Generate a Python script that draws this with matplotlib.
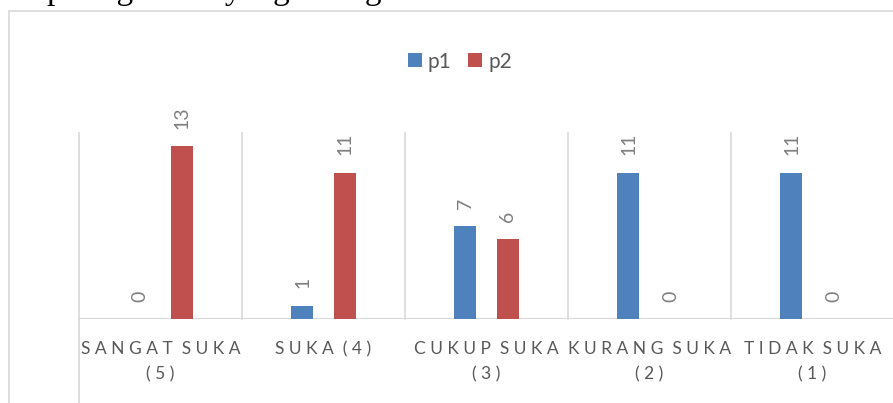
import matplotlib
matplotlib.use("Agg")
import matplotlib.pyplot as plt
import numpy as np
from matplotlib.lines import Line2D

plt.rcParams['font.family'] = ['Lato', 'DejaVu Sans']

categories = ["SANGAT SUKA\n(5)", "SUKA (4)", "CUKUP SUKA\n(3)", "KURANG SUKA\n(2)", "TIDAK SUKA\n(1)"]
p1 = [0, 1, 7, 11, 11]
p2 = [13, 11, 6, 0, 0]
series_names = ["p1", "p2"]
colors = ["#4F81BD", "#C0504D"]
caption = "pilih gambar yang terbagus"


def spaced(s):
    lines = []
    for line in s.split("\n"):
        words = line.split(" ")
        lines.append("  ".join(" ".join(w) for w in words))
    return "\n".join(lines)


W, H = 893, 403
fig = plt.figure(figsize=(W / 100, H / 100), dpi=100)
fig.patch.set_facecolor("white")

# outer chart border (left and top visible)
fig.add_artist(Line2D([8.5 / W, 8.5 / W], [0, 1 - 10.5 / H], color="#d9d9d9", lw=1.2))
fig.add_artist(Line2D([8.5 / W, 1], [1 - 10.5 / H, 1 - 10.5 / H], color="#d9d9d9", lw=1.2))

# clipped caption text at the very top
fig.text(47 / W, 1 + 0.5 / H, caption, family="Liberation Serif", fontsize=24,
         va="baseline", ha="left", color="black")

ax = fig.add_axes([79 / W, (H - 319) / H, (894 - 79) / W, (319 - 133) / H])
ax.set_xlim(-0.5, 4.5)
ax.set_ylim(0, 14)
for s in ax.spines.values():
    s.set_visible(False)
ax.set_yticks([])

x = np.arange(len(categories))
bw = 0.135
off = 0.129
b1 = ax.bar(x - off, p1, bw, color=colors[0], label=series_names[0], zorder=3)
b2 = ax.bar(x + off, p2, bw, color=colors[1], label=series_names[1], zorder=3)

# category separators
for xv in np.arange(-0.5, 4.6, 1.0):
    ax.plot([xv, xv], [0, 1], transform=ax.get_xaxis_transform(), color="#d9d9d9",
            lw=1.2, clip_on=False, zorder=1)
ax.plot([-0.5, -0.5], [-0.46, 0], transform=ax.get_xaxis_transform(), color="#d9d9d9",
        lw=1.2, clip_on=False, zorder=1)
ax.axhline(0, color="#d9d9d9", lw=1.5, zorder=2)

for bars, vals in ((b1, p1), (b2, p2)):
    for rect, v in zip(bars, vals):
        ax.annotate(str(v), (rect.get_x() + rect.get_width() / 2, v),
                    xytext=(0, 12.5), textcoords="offset points", rotation=90,
                    ha="center", va="bottom", fontsize=14, color="#808080")

ax.set_xticks(x)
ax.set_xticklabels([spaced(c) for c in categories], fontsize=12.5, color="#595959",
                   linespacing=1.7)
ax.tick_params(axis="x", length=0, pad=16)

ax.legend(loc="upper center", bbox_to_anchor=(0.4675, (319 - 33) / 186),
          ncol=2, frameon=False, fontsize=15, handlelength=0.65, handleheight=0.65,
          handletextpad=0.3, columnspacing=0.8, labelcolor="#595959",
          bbox_transform=ax.transAxes)

fig.savefig("out.png", dpi=100)
